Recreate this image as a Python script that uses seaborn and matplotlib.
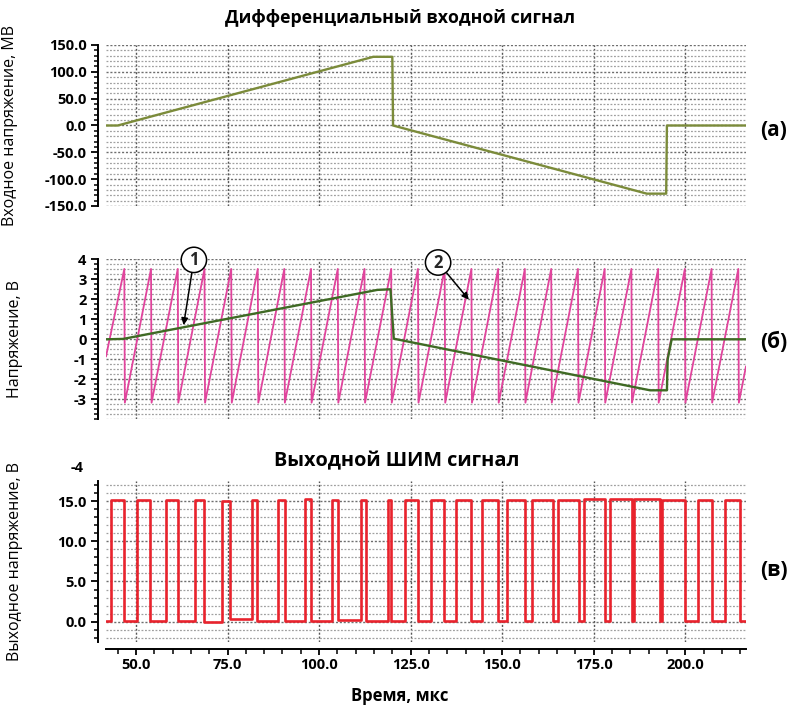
import numpy as np
import pandas as pd
import matplotlib
matplotlib.use("Agg")
import matplotlib.pyplot as plt
import seaborn as sns
from matplotlib.ticker import MultipleLocator, FixedLocator, FormatStrFormatter

sns.set_theme(style="white")
plt.rcParams['font.family'] = ['Open Sans', 'DejaVu Sans']
plt.rcParams['font.weight'] = 'bold'

# ---------------- data ----------------
# (a) differential input signal, mV
in_t = [41.8, 45.0, 114.8, 120.0, 120.2, 189.5, 194.8, 195.0, 216.6]
in_mv = [0.0, 0.0, 128.0, 128.0, 0.0, -127.0, -127.0, 0.0, 0.0]

# (b) amplified signal (1), V
amp_t = [41.8, 46.5, 115.9, 119.5, 120.4, 190.4, 195.0, 195.2, 196.3, 216.6]
amp_v = [0.0, 0.02, 2.47, 2.5, 0.03, -2.55, -2.55, -1.0, 0.0, 0.0]

# (b) sawtooth (2): peak times, levels
saw_peaks = [46.8, 54.1, 61.4, 68.7, 76.0, 83.25, 90.5, 97.8, 105.1, 112.4,
             119.7, 127.0, 134.3, 141.6, 148.9, 156.2, 163.4, 170.7, 178.0,
             185.3, 192.6, 199.9, 207.2, 214.5]
saw_high = 3.52
saw_low = -3.17
saw_start = (41.8, -0.86)
saw_end = (216.6, -1.35)
saw_fall = 0.15

# (c) PWM output: edge times and segment levels
pwm_edges = [41.8, 43.2, 46.6, 50.2, 53.9, 58.2, 61.5, 66.1, 68.6, 73.4, 75.7,
             81.6, 83.0, 88.9, 90.6, 96.2, 97.7, 103.6, 105.2, 111.4, 112.9,
             118.8, 119.6, 123.4, 127.1, 130.5, 134.1, 137.5, 141.4, 144.4,
             148.8, 151.4, 156.2, 158.2, 163.9, 165.3, 171.1, 172.3, 178.2,
             179.4, 185.4, 186.1, 193.0, 193.6, 200.0, 203.6, 207.3, 211.0,
             214.9, 216.6]
pwm_levels = [0.1, 15.1, 0.1, 15.1, 0.1, 15.1, 0.1, 15.1, 0.0, 15.0,
              0.3, 15.1, 0.1, 15.1, 0.1, 15.3, 0.1, 15.1, 0.2, 15.1,
              0.1, 15.1, 0.1, 15.1, 0.1, 15.1, 0.1, 15.1, 0.1, 15.1,
              0.1, 15.1, 0.1, 15.1, 0.1, 15.1, 0.1, 15.2, 0.1, 15.3,
              0.1, 15.2, 0.1, 15.1, 0.1, 15.1, 0.1, 15.1, 0.1]

x_ticks = [50.0, 75.0, 100.0, 125.0, 150.0, 175.0, 200.0]
xlim = (41.8, 216.6)

# ---------------- build tables ----------------
df_in = pd.DataFrame({"t": in_t, "v": in_mv})
df_amp = pd.DataFrame({"t": amp_t, "v": amp_v})
st, sv = [saw_start[0]], [saw_start[1]]
for p in saw_peaks:
    st += [p, p + saw_fall]
    sv += [saw_high, saw_low]
st.append(saw_end[0]); sv.append(saw_end[1])
df_saw = pd.DataFrame({"t": st, "v": sv})
df_pwm = pd.DataFrame({"t": pwm_edges, "v": pwm_levels + [pwm_levels[-1]]})

# ---------------- figure ----------------
fig = plt.figure(figsize=(7.9, 7.11), dpi=100)
L, W = 106 / 790, 640 / 790
ax_a = fig.add_axes([L, 1 - 206 / 711, W, 161 / 711])
ax_b = fig.add_axes([L, 1 - 419.3 / 711, W, 160 / 711])
ax_c = fig.add_axes([L, 1 - 641.8 / 711, W, 160.9 / 711])

TICK_FS = 10.5
dots = (0, (1.5, 1.3))

def style_axis(ax, show_x):
    ax.set_xlim(*xlim)
    ax.xaxis.set_major_locator(FixedLocator(x_ticks))
    ax.grid(which='major', axis='x', color='#555555', linestyle=dots, linewidth=1.0)
    ax.grid(which='major', axis='y', color='#6e6e6e', linestyle=dots, linewidth=1.0)
    ax.grid(which='minor', axis='y', color='#a0a0a0', linestyle=dots, linewidth=0.9)
    ax.set_axisbelow(True)
    ax.tick_params(axis='y', which='major', direction='out', length=5, width=1.3,
                   color='black', pad=3, left=True, labelcolor='black',
                   labelsize=TICK_FS)
    ax.tick_params(axis='y', which='minor', direction='out', length=2.8, width=1.1,
                   color='black', left=True)
    ax.spines['left'].set_linewidth(1.4)
    ax.spines['left'].set_color('black')
    if show_x:
        ax.xaxis.set_minor_locator(MultipleLocator(5))
        ax.xaxis.set_major_formatter(FormatStrFormatter('%.1f'))
        ax.tick_params(axis='x', which='major', direction='out', length=4, width=1.3,
                       color='black', pad=3, bottom=True, labelcolor='black',
                       labelsize=TICK_FS)
        ax.tick_params(axis='x', which='minor', direction='out', length=3.5, width=1.1,
                       color='black', bottom=True)
        ax.spines['bottom'].set_linewidth(1.4)
        ax.spines['bottom'].set_color('black')
        sns.despine(ax=ax, offset={'left': 6, 'bottom': 5})
    else:
        ax.tick_params(axis='x', which='both', bottom=False, labelbottom=False)
        sns.despine(ax=ax, bottom=True, offset={'left': 6})
    ax.set_xlabel('')

YL = dict(fontsize=11.5, color='black', fontweight='normal')

# (a)
sns.lineplot(data=df_in, x="t", y="v", ax=ax_a, estimator=None, sort=False,
             color='#7b8b3a', linewidth=1.7)
ax_a.set_ylim(-150, 150)
ax_a.yaxis.set_major_locator(MultipleLocator(50))
ax_a.yaxis.set_minor_locator(MultipleLocator(10))
ax_a.yaxis.set_major_formatter(FormatStrFormatter('%.1f'))
style_axis(ax_a, False)
ax_a.set_ylabel('Входное напряжение, МВ', **YL)
ax_a.yaxis.set_label_coords(-0.137, 0.5)
fig.text(400 / 790, 1 - 18 / 711, 'Дифференциальный входной сигнал', ha='center',
         va='center', fontsize=12.8, fontweight='bold', color='black')

# (b)
sns.lineplot(data=df_saw, x="t", y="v", ax=ax_b, estimator=None, sort=False,
             color='#e0449c', linewidth=1.3)
sns.lineplot(data=df_amp, x="t", y="v", ax=ax_b, estimator=None, sort=False,
             color='#3f6a24', linewidth=1.7)
ax_b.set_ylim(-4, 4)
ax_b.yaxis.set_major_locator(FixedLocator([4, 3, 2, 1, 0, -1, -2, -3]))
ax_b.yaxis.set_minor_locator(MultipleLocator(0.25))
ax_b.yaxis.set_major_formatter(FormatStrFormatter('%d'))
style_axis(ax_b, False)
ax_b.set_ylabel('Напряжение, В', **YL)
ax_b.yaxis.set_label_coords(-0.13, 0.5)

# annotations (1) and (2)
for num, (cx, cy), (tx, ty) in [("1", (65.8, 3.97), (63.0, 0.71)),
                                ("2", (132.5, 3.84), (140.9, 1.98))]:
    ax_b.annotate(num, xy=(tx, ty), xytext=(cx, cy), ha='center', va='center',
                  fontsize=12, fontweight='bold', annotation_clip=False,
                  bbox=dict(boxstyle='circle,pad=0.22', fc='white', ec='black', lw=1.1),
                  arrowprops=dict(arrowstyle='-|>', color='black', lw=1.1,
                                  mutation_scale=10, shrinkA=0, shrinkB=0))

# (c)
sns.lineplot(data=df_pwm, x="t", y="v", ax=ax_c, estimator=None, sort=False,
             color='#e8232d', linewidth=1.9, drawstyle='steps-post')
ax_c.set_ylim(-2.5, 17.5)
ax_c.yaxis.set_major_locator(FixedLocator([0, 5, 10, 15]))
ax_c.yaxis.set_minor_locator(MultipleLocator(1))
ax_c.yaxis.set_major_formatter(FormatStrFormatter('%.1f'))
style_axis(ax_c, True)
ax_c.set_ylabel('Выходное напряжение, В', **YL)
ax_c.yaxis.set_label_coords(-0.13, 0.5)
fig.text(400 / 790, 1 - 696 / 711, 'Время, мкс', ha='center', va='center',
         fontsize=12, fontweight='bold', color='black')
fig.text(397 / 790, 1 - 461 / 711, 'Выходной ШИМ сигнал', ha='center', va='center',
         fontsize=14.3, fontweight='bold', color='black')
fig.text(84 / 790, 1 - 468 / 711, '-4', ha='right', va='center', color='black',
         fontsize=TICK_FS, fontweight='bold')

# panel letters
for lab, y in [('(а)', 130), ('(б)', 342), ('(в)', 571)]:
    fig.text(774 / 790, 1 - y / 711, lab, ha='center', va='center',
             fontsize=15, fontweight='bold', color='black')

fig.savefig('out.png', dpi=100)
